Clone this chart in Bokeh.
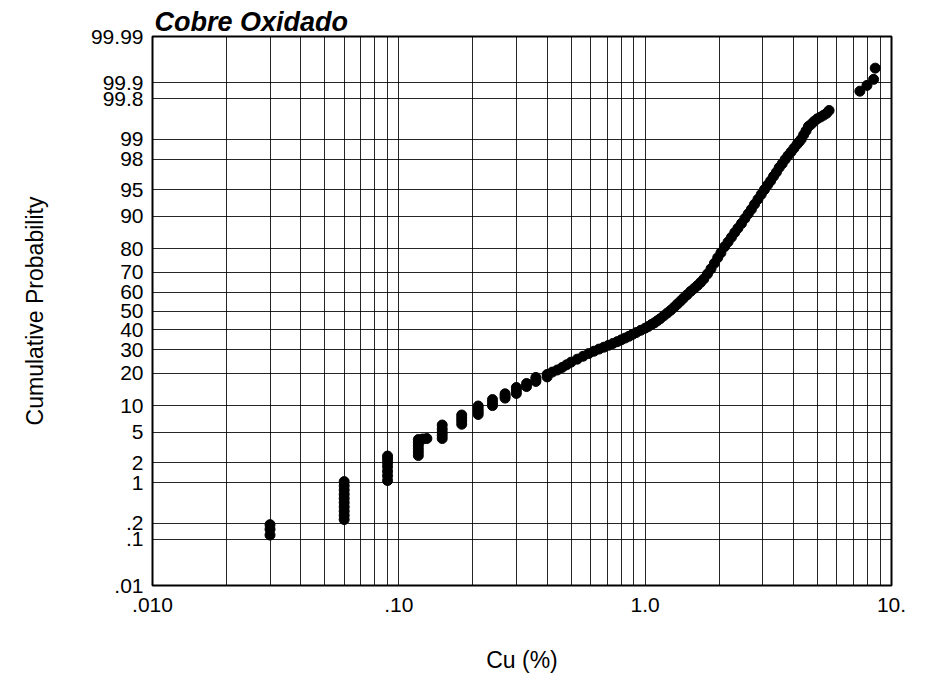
import numpy as np
from bokeh.plotting import figure
from bokeh.models import Range1d, FixedTicker, ColumnDataSource
from bokeh.embed import file_html
from bokeh.resources import INLINE

# ---------------- data ----------------
title_text = "Cobre Oxidado"
x_title = "Cu (%)"
y_title = "Cumulative Probability"

x_ticks = [0.01, 0.1, 1.0, 10.0]
x_tick_labels = [".010", ".10", "1.0", "10."]
x_grid_values = [0.01, 0.02, 0.03, 0.04, 0.05, 0.06, 0.07, 0.08, 0.09,
                 0.1, 0.2, 0.3, 0.4, 0.5, 0.6, 0.7, 0.8, 0.9,
                 1.0, 2.0, 3.0, 4.0, 5.0, 6.0, 7.0, 8.0, 9.0, 10.0]

prob_ticks = [0.01, 0.1, 0.2, 1, 2, 5, 10, 20, 30, 40, 50, 60, 70, 80,
              90, 95, 98, 99, 99.8, 99.9, 99.99]
prob_tick_labels = [".01", ".1", ".2", "1", "2", "5", "10", "20", "30", "40",
                    "50", "60", "70", "80", "90", "95", "98", "99", "99.8",
                    "99.9", "99.99"]

# low grades (discrete assay values -> vertical stacks)
cu_low = [0.03, 0.03, 0.03,
          0.06, 0.06, 0.06, 0.06, 0.06, 0.06, 0.06, 0.06, 0.06, 0.06,
          0.09, 0.09, 0.09, 0.09, 0.09, 0.09, 0.09,
          0.12, 0.12, 0.12, 0.12, 0.12, 0.12, 0.125, 0.13,
          0.15, 0.15, 0.15, 0.15, 0.15,
          0.18, 0.18, 0.18, 0.18,
          0.21, 0.21, 0.21, 0.21,
          0.24, 0.24, 0.24,
          0.27, 0.27, 0.27,
          0.30, 0.30, 0.30,
          0.33, 0.33,
          0.36, 0.36, 0.36,
          0.40]
pct_low = [0.12, 0.155, 0.19,
           0.236, 0.282, 0.335, 0.398, 0.47, 0.554, 0.651, 0.763, 0.892, 1.04,
           1.08, 1.28, 1.5, 1.75, 2.0, 2.25, 2.47,
           2.51, 2.8, 3.1, 3.45, 3.75, 4.08, 4.15, 4.2,
           4.2, 4.6, 5.0, 5.5, 6.12,
           6.25, 6.8, 7.35, 7.94,
           8.05, 8.6, 9.2, 9.9,
           10.0, 10.7, 11.5,
           11.9, 12.5, 13.1,
           13.2, 14.1, 15.0,
           15.3, 16.3,
           17.0, 17.7, 18.4,
           18.6]

# main body of the distribution
cu_mid = [0.40, 0.42, 0.44, 0.46, 0.48, 0.50, 0.53, 0.56, 0.59, 0.62, 0.65,
          0.68, 0.71, 0.74, 0.77, 0.80, 0.83, 0.86, 0.89, 0.92, 0.96,
          1.00, 1.03, 1.06, 1.09, 1.12, 1.15, 1.19, 1.23, 1.27, 1.31, 1.35,
          1.39, 1.43, 1.48, 1.53, 1.58, 1.63, 1.68, 1.73, 1.79, 1.85, 1.91,
          1.97, 2.03, 2.10, 2.17, 2.24, 2.31, 2.38, 2.46, 2.54, 2.62, 2.70,
          2.78, 2.87, 2.96, 3.05, 3.14, 3.23, 3.32, 3.41, 3.50, 3.60, 3.70,
          3.80, 3.91, 4.02, 4.14, 4.22, 4.30, 4.40, 4.50, 4.60, 4.72, 4.85,
          5.00, 5.15, 5.30, 5.45, 5.58]
pct_mid = [19.5, 20.4, 21.2, 22.2, 23.3, 24.4, 25.7, 27.0, 28.2, 29.3, 30.3,
           31.2, 32.1, 33.0, 33.9, 34.8, 35.7, 36.6, 37.6, 38.5, 39.7,
           40.8, 41.7, 42.7, 43.6, 44.7, 45.8, 47.4, 48.9, 50.4, 52.0, 53.7,
           55.3, 56.9, 58.7, 60.5, 62.0, 63.5, 65.1, 66.8, 69.2, 71.6, 74.1,
           76.5, 78.5, 80.8, 82.5, 84.1, 85.6, 86.9, 88.2, 89.5, 90.6, 91.6,
           92.6, 93.5, 94.3, 95.0, 95.6, 96.1, 96.6, 97.0, 97.4, 97.7, 98.0,
           98.23, 98.44, 98.63, 98.81, 98.91, 99.0, 99.15, 99.27, 99.38,
           99.43, 99.49, 99.54, 99.57, 99.60, 99.63, 99.67]

# high-grade outliers
cu_high = [7.44, 7.95, 8.46, 8.59]
pct_high = [99.855, 99.888, 99.915, 99.95]


# ---------------- probability scale ----------------
def norm_ppf(p):
    p = np.asarray(p, dtype=float)
    a = [-3.969683028665376e+01, 2.209460984245205e+02, -2.759285104469687e+02,
         1.383577518672690e+02, -3.066479806614716e+01, 2.506628277459239e+00]
    b = [-5.447609879822406e+01, 1.615858368580409e+02, -1.556989798598866e+02,
         6.680131188771972e+01, -1.328068155288572e+01]
    c = [-7.784894002430293e-03, -3.223964580411365e-01, -2.400758277161838e+00,
         -2.549732539343734e+00, 4.374664141464968e+00, 2.938163982698783e+00]
    d = [7.784695709041462e-03, 3.224671290700398e-01, 2.445134137142996e+00,
         3.754408661907416e+00]
    plow = 0.02425
    phigh = 1 - plow
    out = np.empty_like(p)
    lo = p < plow
    hi = p > phigh
    mid = ~(lo | hi)
    q = np.sqrt(-2 * np.log(p[lo]))
    out[lo] = (((((c[0]*q + c[1])*q + c[2])*q + c[3])*q + c[4])*q + c[5]) / \
              ((((d[0]*q + d[1])*q + d[2])*q + d[3])*q + 1)
    q = np.sqrt(-2 * np.log(1 - p[hi]))
    out[hi] = -(((((c[0]*q + c[1])*q + c[2])*q + c[3])*q + c[4])*q + c[5]) / \
               ((((d[0]*q + d[1])*q + d[2])*q + d[3])*q + 1)
    q = p[mid] - 0.5
    r = q * q
    out[mid] = (((((a[0]*r + a[1])*r + a[2])*r + a[3])*r + a[4])*r + a[5]) * q / \
               (((((b[0]*r + b[1])*r + b[2])*r + b[3])*r + b[4])*r + 1)
    return out


cu_all = cu_low + cu_mid + cu_high
pct_all = pct_low + pct_mid + pct_high
z_all = norm_ppf(np.array(pct_all) / 100.0)

z_ticks = [round(float(v), 6) for v in norm_ppf(np.array(prob_ticks) / 100.0)]
z_min = z_ticks[0]
z_max = z_ticks[-1]

src = ColumnDataSource(dict(cu=cu_all, z=list(z_all)))

FONT = "Liberation Sans"

p = figure(width=917, height=678, x_axis_type="log",
           x_range=Range1d(x_ticks[0], x_ticks[-1]),
           y_range=Range1d(z_min, z_max),
           output_backend="svg", toolbar_location=None,
           min_border_left=152, min_border_right=26,
           min_border_top=36, min_border_bottom=93)

p.background_fill_color = "white"
p.border_fill_color = "white"
p.outline_line_color = "black"
p.outline_line_width = 2

# title
p.title.text = title_text
p.title.align = "left"
p.title.offset = 2
p.title.standoff = 0
p.title.text_font = FONT
p.title.text_font_size = "27px"
p.title.text_font_style = "bold italic"
p.title.text_color = "black"

# axes
p.xaxis.ticker = FixedTicker(ticks=x_ticks)
p.xaxis.major_label_overrides = {t: l for t, l in zip(x_ticks, x_tick_labels)}
p.yaxis.ticker = FixedTicker(ticks=z_ticks)
p.yaxis.major_label_overrides = {t: l for t, l in zip(z_ticks, prob_tick_labels)}

for ax in (p.xaxis[0], p.yaxis[0]):
    ax.axis_line_color = None
    ax.major_tick_line_color = None
    ax.minor_tick_line_color = None
    ax.major_label_text_font = FONT
    ax.major_label_text_font_size = "21px"
    ax.major_label_text_color = "black"
    ax.axis_label_text_font = FONT
    ax.axis_label_text_font_size = "23px"
    ax.axis_label_text_font_style = "normal"
    ax.axis_label_text_color = "black"

p.xaxis.axis_label = x_title
p.yaxis.axis_label = y_title
p.xaxis.major_label_standoff = 6
p.xaxis.axis_label_standoff = 32
p.yaxis.major_label_standoff = 3
p.yaxis.axis_label_standoff = 40

# grid
p.xgrid.ticker = FixedTicker(ticks=x_grid_values)
p.ygrid.ticker = FixedTicker(ticks=z_ticks)
for g in (p.xgrid[0], p.ygrid[0]):
    g.grid_line_color = "black"
    g.grid_line_alpha = 0.85
    g.grid_line_width = 1

# points
p.scatter("cu", "z", source=src, size=10, marker="circle",
          fill_color="black", line_color="black")

open("out.html", "w").write(file_html(p, INLINE))
